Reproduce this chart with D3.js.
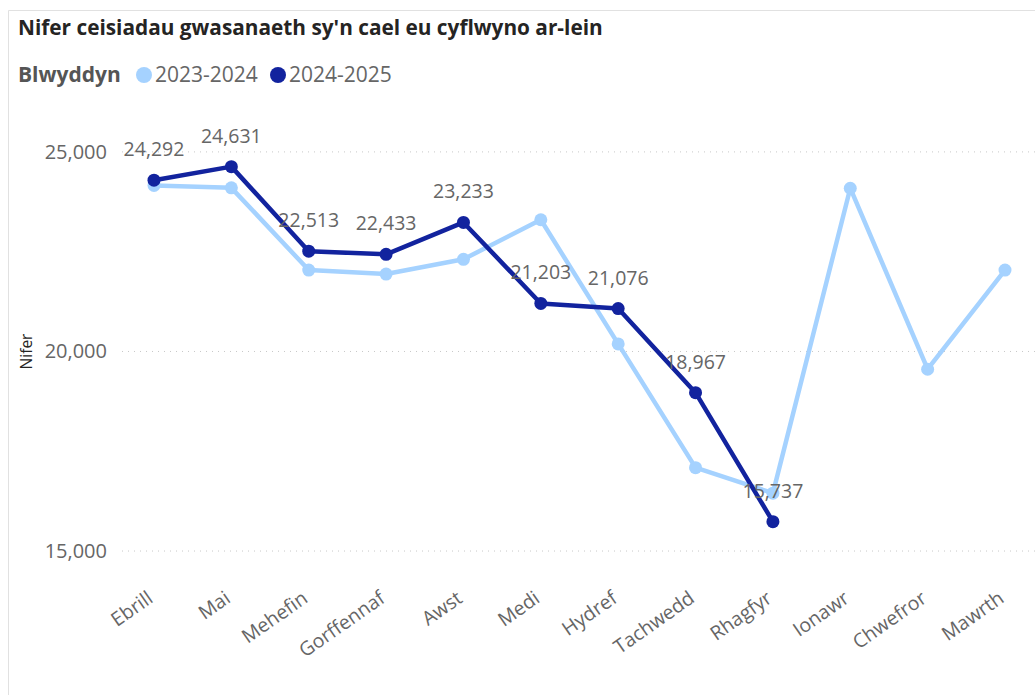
<!DOCTYPE html>
<html>
<head>
<meta charset="utf-8">
<script src="https://cdn.jsdelivr.net/npm/d3@7"></script>
<style>
  body { margin: 0; background: #fff; font-family: "Open Sans", "Noto Sans", sans-serif; }
  svg { display: block; }
</style>
</head>
<body>
<div id="chart"></div>
<script>
"use strict";

var months = ["Ebrill", "Mai", "Mehefin", "Gorffennaf", "Awst", "Medi", "Hydref",
              "Tachwedd", "Rhagfyr", "Ionawr", "Chwefror", "Mawrth"];
var series2324 = [24160, 24100, 22040, 21940, 22310, 23300, 20190, 17090, 16450, 24090, 19555, 22040];
var series2425 = [24292, 24631, 22513, 22433, 23233, 21203, 21076, 18967, 15737];
var yTicks = [15000, 20000, 25000];
var legendLabels = ["2023-2024", "2024-2025"];

var width = 1035, height = 695;
var colorLight = "#a5d2ff", colorDark = "#12239e";

var svg = d3.select("#chart").append("svg")
    .attr("width", width)
    .attr("height", height);

// panel frame
svg.append("path")
    .attr("d", "M8.5," + height + "V10.5H" + width)
    .attr("fill", "none")
    .attr("stroke", "#e1e1e1")
    .attr("stroke-width", 1);

svg.append("text")
    .attr("x", 18)
    .attr("y", 35)
    .attr("font-size", 20.8)
    .attr("font-weight", "bold")
    .attr("fill", "#252423")
    .text("Nifer ceisiadau gwasanaeth sy'n cael eu cyflwyno ar-lein");

// legend
var legend = svg.append("g").attr("transform", "translate(18,82)");
legend.append("text")
    .attr("font-size", 21)
    .attr("font-weight", "bold")
    .attr("fill", "#555")
    .text("Blwyddyn");
var legendX = [126, 260];
[colorLight, colorDark].forEach(function(c, i) {
    legend.append("circle")
        .attr("cx", legendX[i])
        .attr("cy", -7)
        .attr("r", 8)
        .attr("fill", c);
    legend.append("text")
        .attr("x", legendX[i] + 11)
        .attr("font-size", 21)
        .attr("fill", "#666")
        .text(legendLabels[i]);
});

var xScale = d3.scalePoint().domain(months).range([154, 1005]);
var yScale = d3.scaleLinear().domain([14500, 26000]).range([571, 112]);

// gridlines
svg.append("g")
    .selectAll("line")
    .data(yTicks)
    .enter()
    .append("line")
    .attr("x1", 122)
    .attr("x2", width)
    .attr("y1", function(d) { return yScale(d); })
    .attr("y2", function(d) { return yScale(d); })
    .attr("stroke", "#c8c8c8")
    .attr("stroke-width", 1)
    .attr("stroke-dasharray", "1,5");

// y axis
var yAxis = d3.axisLeft(yScale).tickValues(yTicks).tickSize(0).tickPadding(0)
    .tickFormat(d3.format(","));
var gy = svg.append("g")
    .attr("transform", "translate(107,0)")
    .call(yAxis);
gy.select(".domain").remove();
gy.selectAll("text")
    .attr("font-size", 20)
    .attr("font-family", "'Open Sans', sans-serif")
    .attr("fill", "#666");

svg.append("text")
    .attr("transform", "translate(32," + yScale(20000) + ") rotate(-90)")
    .attr("text-anchor", "middle")
    .attr("font-size", 15.5)
    .attr("fill", "#252423")
    .text("Nifer");

// x axis
var xAxis = d3.axisBottom(xScale).tickSize(0).tickPadding(0);
var gx = svg.append("g")
    .attr("transform", "translate(0,590)")
    .call(xAxis);
gx.select(".domain").remove();
gx.selectAll("text")
    .attr("font-size", 19.5)
    .attr("font-family", "'Open Sans', sans-serif")
    .attr("fill", "#666")
    .attr("text-anchor", "end")
    .attr("dy", "0.7em")
    .attr("transform", "translate(-8,0) rotate(-35)");

// lines
var line = d3.line()
    .x(function(d, i) { return xScale(months[i]); })
    .y(function(d) { return yScale(d); });

function drawSeries(values, color) {
    svg.append("path")
        .datum(values)
        .attr("fill", "none")
        .attr("stroke", color)
        .attr("stroke-width", 4.5)
        .attr("stroke-linejoin", "round")
        .attr("d", line);
    svg.append("g")
        .selectAll("circle")
        .data(values)
        .enter()
        .append("circle")
        .attr("cx", function(d, i) { return xScale(months[i]); })
        .attr("cy", function(d) { return yScale(d); })
        .attr("r", 6.5)
        .attr("fill", color);
}

drawSeries(series2324, colorLight);
drawSeries(series2425, colorDark);

// data labels for 2024-2025
svg.append("g")
    .selectAll("text")
    .data(series2425)
    .enter()
    .append("text")
    .attr("x", function(d, i) { return xScale(months[i]); })
    .attr("y", function(d) { return yScale(d) - 24; })
    .attr("text-anchor", "middle")
    .attr("font-size", 19.5)
    .attr("fill", "#666")
    .text(d3.format(","));
</script>
</body>
</html>
